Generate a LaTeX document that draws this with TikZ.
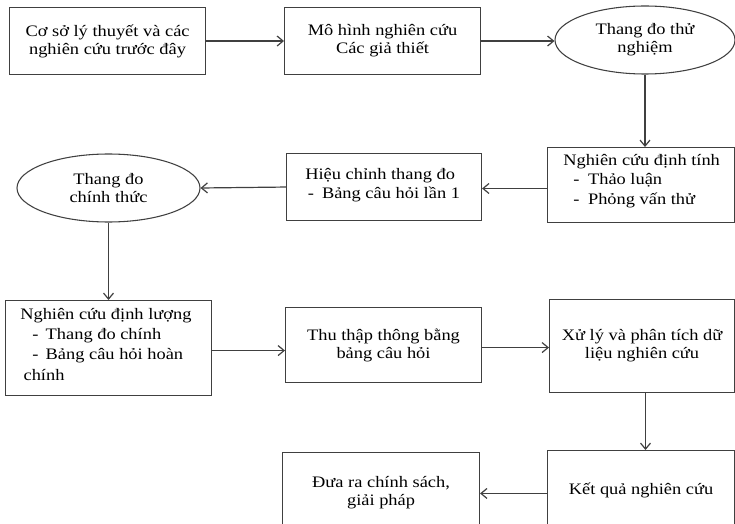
\documentclass[tikz,border=0pt]{standalone}
\usepackage{fontspec}
\setmainfont{Liberation Serif}[FakeStretch=1.15]
\usetikzlibrary{arrows.meta,shapes.geometric}
\begin{document}
\begin{tikzpicture}[x=0.75pt,y=-0.75pt,
  every node/.style={font=\fontsize{12pt}{13.5pt}\selectfont, text=black},
  box/.style={draw=black!75, line width=0.8pt, anchor=north west, inner sep=0pt, align=center},
  oval/.style={draw=black!75, line width=0.8pt, ellipse, inner sep=0pt, align=center},
  conn/.style={draw=black!75, line width=0.9pt, -{Straight Barb[length=4.5pt,width=7.5pt,line width=0.9pt]}},
  listtext/.style={align=left, inner sep=0pt, anchor=north west, font=\fontsize{12pt}{14.6pt}\selectfont}
]
\clip (0,0) rectangle (735,524);
\fill[white] (0,0) rectangle (735,524);

\node[box, minimum width=196*0.75pt, minimum height=67*0.75pt] (b1) at (9,7)
  {Cơ sở lý thuyết và các\\nghiên cứu trước đây};
\node[box, minimum width=196*0.75pt, minimum height=67*0.75pt] (b2) at (284,7)
  {Mô hình nghiên cứu\\Các giả thiết};
\node[oval, minimum width=180*0.75pt, minimum height=68*0.75pt] (e1) at (645,40)
  {Thang đo thử\\nghiệm};
\node[box, minimum width=187*0.75pt, minimum height=75*0.75pt] (b4) at (547,147) {};
\node[listtext] (t4) at (563,154)
  {Nghiên cứu định tính\\\hspace*{7.5pt}-\hspace*{6.5pt}Thảo luận\\\hspace*{7.5pt}-\hspace*{6.5pt}Phỏng vấn thử};
\node[box, minimum width=195*0.75pt, minimum height=67*0.75pt] (b5) at (286,153) {};
\node[listtext, font=\fontsize{12pt}{14pt}\selectfont] (t5) at (305,168)
  {Hiệu chỉnh thang đo\\\hspace*{2pt}-\hspace*{6pt}Bảng câu hỏi lần 1};
\node[oval, minimum width=183*0.75pt, minimum height=68*0.75pt] (e2) at (108.5,188)
  {Thang đo\\chính thức};
\node[box, minimum width=206*0.75pt, minimum height=95*0.75pt] (b6) at (5,300) {};
\node[listtext, font=\fontsize{12pt}{15.2pt}\selectfont] (t6) at (20,308)
  {Nghiên cứu định lượng\\\hspace*{9pt}-\hspace*{5.5pt}Thang đo chính\\\hspace*{9pt}-\hspace*{5.5pt}Bảng câu hỏi hoàn\\\hspace*{2.5pt}chính};
\node[box, minimum width=196*0.75pt, minimum height=75*0.75pt] (b7) at (285,307)
  {Thu thập thông bằng\\bảng câu hỏi};
\node[box, minimum width=185*0.75pt, minimum height=93*0.75pt] (b8) at (549,299)
  {Xử lý và phân tích dữ\\liệu nghiên cứu};
\node[box, minimum width=187*0.75pt, minimum height=80*0.75pt] (b9) at (547,450)
  {Kết quả nghiên cứu};
\node[box, minimum width=197*0.75pt, minimum height=80*0.75pt] (b10) at (282,452)
  {Đưa ra chính sách,\\giải pháp};

\draw[conn] (b1.east) -- (b2.west);
\draw[conn] (b2.east) -- (b2.east -| e1.west);
\draw[conn] (e1.south) -- (e1.south |- b4.north);
\draw[conn] ([yshift=-2.6pt]b4.west) -- ([yshift=-2.6pt]b4.west -| b5.east);
\draw[conn] (b5.east -| b5.west) -- (e2.east);
\draw[conn] ([yshift=-1.9pt]b6.east) -- ([yshift=-1.9pt]b6.east -| b7.west);
\draw[conn] ([yshift=-1.9pt]b7.east) -- ([yshift=-1.9pt]b7.east -| b8.west);
\draw[conn] ([xshift=2.6pt]b8.south) -- ([xshift=2.6pt]b8.south |- b9.north);
\draw[conn] ([yshift=-2.2pt]b9.west) -- ([yshift=-2.2pt]b9.west -| b10.east);
\draw[conn] (e2.south) -- (e2.south |- b6.north);
\end{tikzpicture}
\end{document}
